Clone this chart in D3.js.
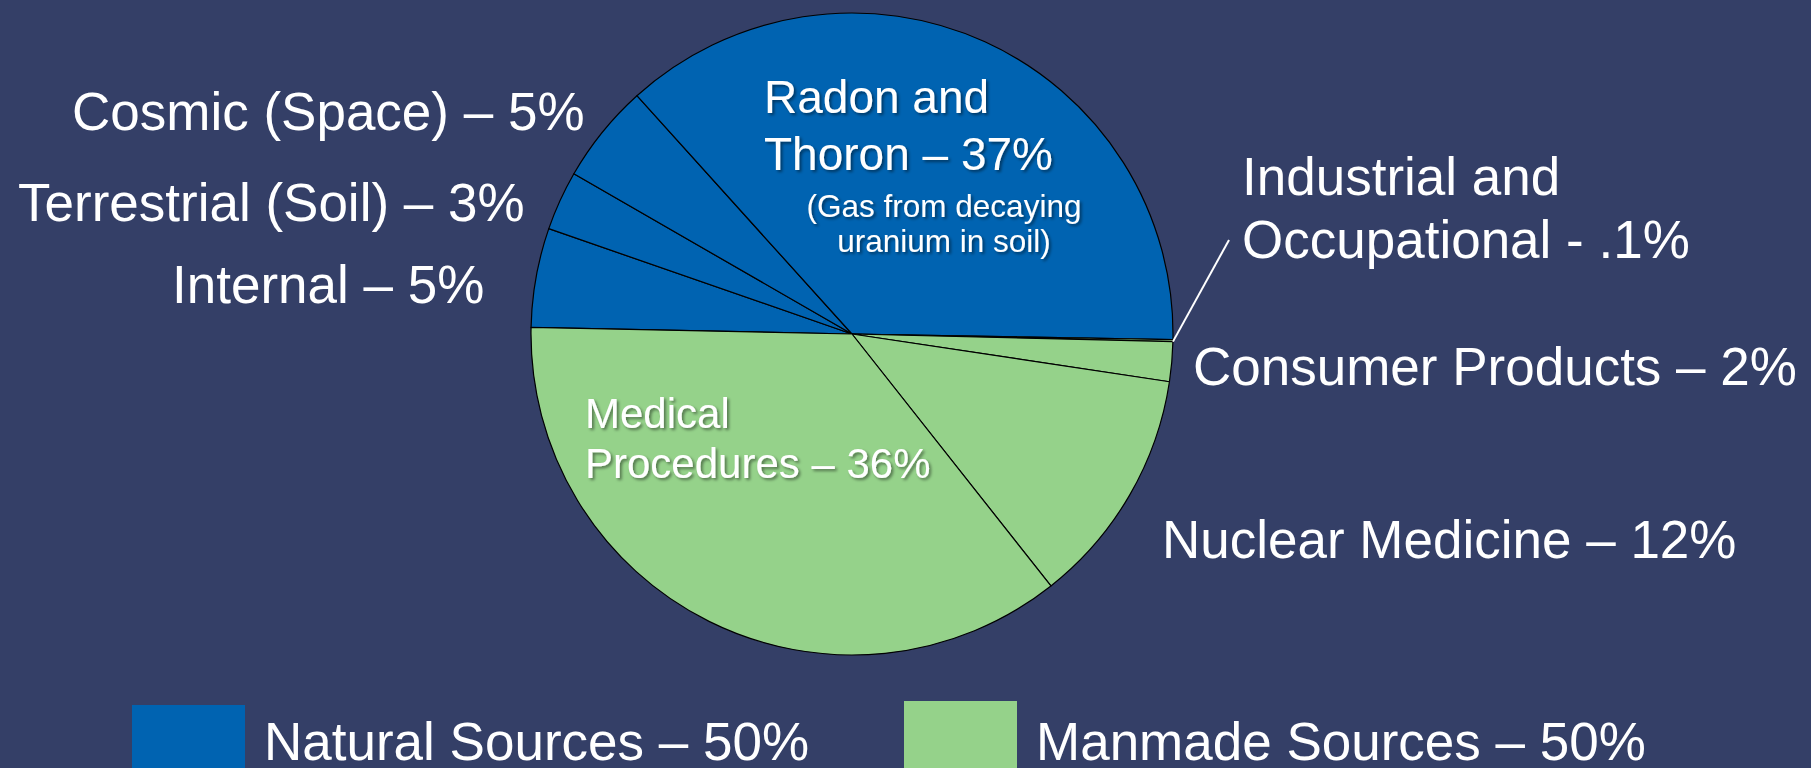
<!DOCTYPE html>
<meta charset="utf-8">
<title>Sources of Radiation Exposure</title>
<style>
html, body { margin: 0; padding: 0; background: #343f67; overflow: hidden; }
svg { display: block; }
text { font-family: "Liberation Sans", Arial, sans-serif; fill: #fff; }
.inpie { filter: url(#shadow); }
</style>
<body>
<script src="https://d3js.org/d3.v7.min.js"></script>
<script>
// data
var sources = ["Internal", "Terrestrial (Soil)", "Cosmic (Space)", "Radon and Thoron",
               "Industrial and Occupational", "Consumer Products", "Nuclear Medicine", "Medical Procedures"];
var percents = [5, 3, 5, 37, 0.1, 2, 12, 36];
var groups = ["natural", "natural", "natural", "natural", "manmade", "manmade", "manmade", "manmade"];
var legendLabels = ["Natural Sources – 50%", "Manmade Sources – 50%"];
var groupKeys = ["natural", "manmade"];

var width = 1811, height = 768;
var cx = 852, cy = 334, r = 321;

var color = d3.scaleOrdinal().domain(groupKeys).range(["#0063b1", "#95d28a"]);

var svg = d3.select("body").append("svg")
    .attr("width", width)
    .attr("height", height);

var defs = svg.append("defs");
defs.append("filter").attr("id", "shadow")
    .attr("x", "-10%").attr("y", "-20%").attr("width", "130%").attr("height", "150%")
  .append("feDropShadow")
    .attr("dx", 2).attr("dy", 2).attr("stdDeviation", 1.5)
    .attr("flood-color", "#000").attr("flood-opacity", 0.45);

svg.append("rect").attr("width", width).attr("height", height).attr("fill", "#343f67");

// natural half runs clockwise from the left edge over the top
var rows = sources.map(function(s, i) { return {name: s, value: percents[i], group: groups[i]}; });
var natTotal = d3.sum(rows.filter(function(d) { return d.group == "natural"; }), function(d) { return d.value; });
var total = d3.sum(rows, function(d) { return d.value; });
var rightEdge = 91 * Math.PI / 180;
var start = rightEdge - natTotal / total * 2 * Math.PI;

var pie = d3.pie().sort(null).value(function(d) { return d.value; })
    .startAngle(start).endAngle(start + 2 * Math.PI);
var arcs = pie(rows);
var arc = d3.arc().innerRadius(0).outerRadius(r);

var g = svg.append("g").attr("transform", "translate(" + cx + "," + cy + ")");
g.selectAll("path")
  .data(arcs)
  .enter().append("path")
    .attr("d", arc)
    .attr("fill", function(d) { return color(d.data.group); })
    .attr("stroke", "#000")
    .attr("stroke-width", 1.2)
    .attr("stroke-linejoin", "round");

// label layout (baseline positions)
var layout = [
  {lines: ["Cosmic (Space) – 5%"], x: 72, y: [130], size: 53},
  {lines: ["Terrestrial (Soil) – 3%"], x: 18, y: [221], size: 53},
  {lines: ["Internal – 5%"], x: 172, y: [303], size: 53},
  {lines: ["Radon and", "Thoron – 37%"], x: 764, y: [113, 170], size: 46, cls: "inpie"},
  {lines: ["(Gas from decaying", "uranium in soil)"], x: 944, y: [217, 252], size: 31.5, cls: "inpie", anchor: "middle"},
  {lines: ["Industrial and", "Occupational - .1%"], x: 1242, y: [195, 258], size: 53},
  {lines: ["Consumer Products – 2%"], x: 1193, y: [385], size: 53},
  {lines: ["Nuclear Medicine – 12%"], x: 1162, y: [558], size: 53},
  {lines: ["Medical", "Procedures – 36%"], x: 585, y: [428, 478], size: 42, cls: "inpie"}
];

layout.forEach(function(l) {
  var t = svg.append("text")
      .attr("class", l.cls || null)
      .attr("font-size", l.size)
      .attr("text-anchor", l.anchor || "start");
  l.lines.forEach(function(line, i) {
    t.append("tspan").attr("x", l.x).attr("y", l.y[i]).text(line);
  });
});

// leader line for the tiny industrial slice
var ind = arcs[4];
var mid = (ind.startAngle + ind.endAngle) / 2;
var indLabel = layout[5];
svg.append("line")
    .attr("x1", cx + r * Math.sin(mid))
    .attr("y1", cy - r * Math.cos(mid) + 1)
    .attr("x2", indLabel.x - 13)
    .attr("y2", indLabel.y[1] - 18)
    .attr("stroke", "#fff")
    .attr("stroke-width", 2);

// legend
var legendX = [132, 904], legendTop = [705, 701];
var leg = svg.selectAll(".legend")
  .data(groupKeys)
  .enter().append("g").attr("class", "legend");
leg.append("rect")
    .attr("x", function(d, i) { return legendX[i]; })
    .attr("y", function(d, i) { return legendTop[i]; })
    .attr("width", 113)
    .attr("height", 80)
    .attr("fill", function(d) { return color(d); });
leg.append("text")
    .attr("x", function(d, i) { return legendX[i] + 132; })
    .attr("y", 760)
    .attr("font-size", 53)
    .text(function(d, i) { return legendLabels[i]; });
</script>
</body>
